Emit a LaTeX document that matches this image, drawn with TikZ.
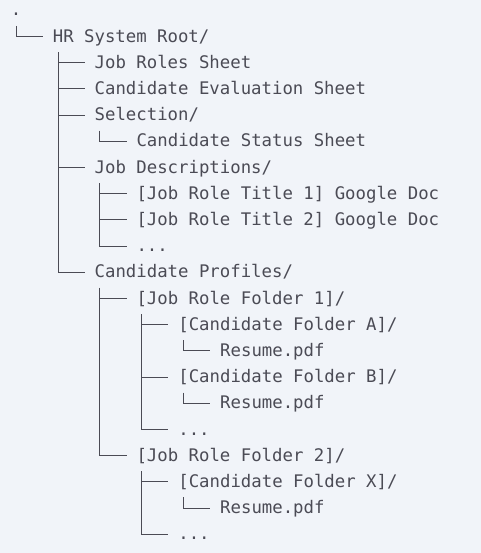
\documentclass[tikz,border=0pt]{standalone}
\usepackage{fontspec}
\setmonofont{DejaVu Sans Mono}
\usetikzlibrary{calc}
\definecolor{bgc}{HTML}{F1F4F9}
\definecolor{txt}{HTML}{4B4B55}
\tikzset{
  entry/.style={anchor=base west, inner sep=0pt, outer sep=0pt, text=txt,
    font=\ttfamily\fontsize{13}{15}\selectfont},
  tree/.style={draw=txt, line width=0.8pt}
}
\newcommand{\colx}[1]{11+10.46*#1}
\newcommand{\rowy}[1]{15.8+26.2*#1}
\begin{document}
\begin{tikzpicture}[x=0.75pt,y=-0.75pt]
\fill[bgc] (0,0) rectangle (481,553);
\useasboundingbox (0,0) rectangle (481,553);
\node[entry] (n0) at ({\colx{0}},{\rowy{0}}) {.};
\node[entry] (n1) at ({\colx{4}},{\rowy{1}}) {HR System Root/};
\node[entry] (n2) at ({\colx{8}},{\rowy{2}}) {Job Roles Sheet};
\node[entry] (n3) at ({\colx{8}},{\rowy{3}}) {Candidate Evaluation Sheet};
\node[entry] (n4) at ({\colx{8}},{\rowy{4}}) {Selection/};
\node[entry] (n5) at ({\colx{12}},{\rowy{5}}) {Candidate Status Sheet};
\node[entry] (n6) at ({\colx{8}},{\rowy{6}}) {Job Descriptions/};
\node[entry] (n7) at ({\colx{12}},{\rowy{7}}) {[Job Role Title 1] Google Doc};
\node[entry] (n8) at ({\colx{12}},{\rowy{8}}) {[Job Role Title 2] Google Doc};
\node[entry] (n9) at ({\colx{12}},{\rowy{9}}) {...};
\node[entry] (n10) at ({\colx{8}},{\rowy{10}}) {Candidate Profiles/};
\node[entry] (n11) at ({\colx{12}},{\rowy{11}}) {[Job Role Folder 1]/};
\node[entry] (n12) at ({\colx{16}},{\rowy{12}}) {[Candidate Folder A]/};
\node[entry] (n13) at ({\colx{20}},{\rowy{13}}) {Resume.pdf};
\node[entry] (n14) at ({\colx{16}},{\rowy{14}}) {[Candidate Folder B]/};
\node[entry] (n15) at ({\colx{20}},{\rowy{15}}) {Resume.pdf};
\node[entry] (n16) at ({\colx{16}},{\rowy{16}}) {...};
\node[entry] (n17) at ({\colx{12}},{\rowy{17}}) {[Job Role Folder 2]/};
\node[entry] (n18) at ({\colx{16}},{\rowy{18}}) {[Candidate Folder X]/};
\node[entry] (n19) at ({\colx{20}},{\rowy{19}}) {Resume.pdf};
\node[entry] (n20) at ({\colx{16}},{\rowy{20}}) {...};
\foreach \p/\c in {n0/n1, n1/n2, n1/n3, n1/n4, n4/n5, n1/n6, n6/n7, n6/n8, n6/n9,
  n1/n10, n10/n11, n11/n12, n12/n13, n11/n14, n14/n15, n11/n16,
  n10/n17, n17/n18, n18/n19, n17/n20}
  \draw[tree] ($(\p.base west)+(5.2,10)$) |- ($(\c.base west)+(-10,-5.5)$);
\end{tikzpicture}
\end{document}
